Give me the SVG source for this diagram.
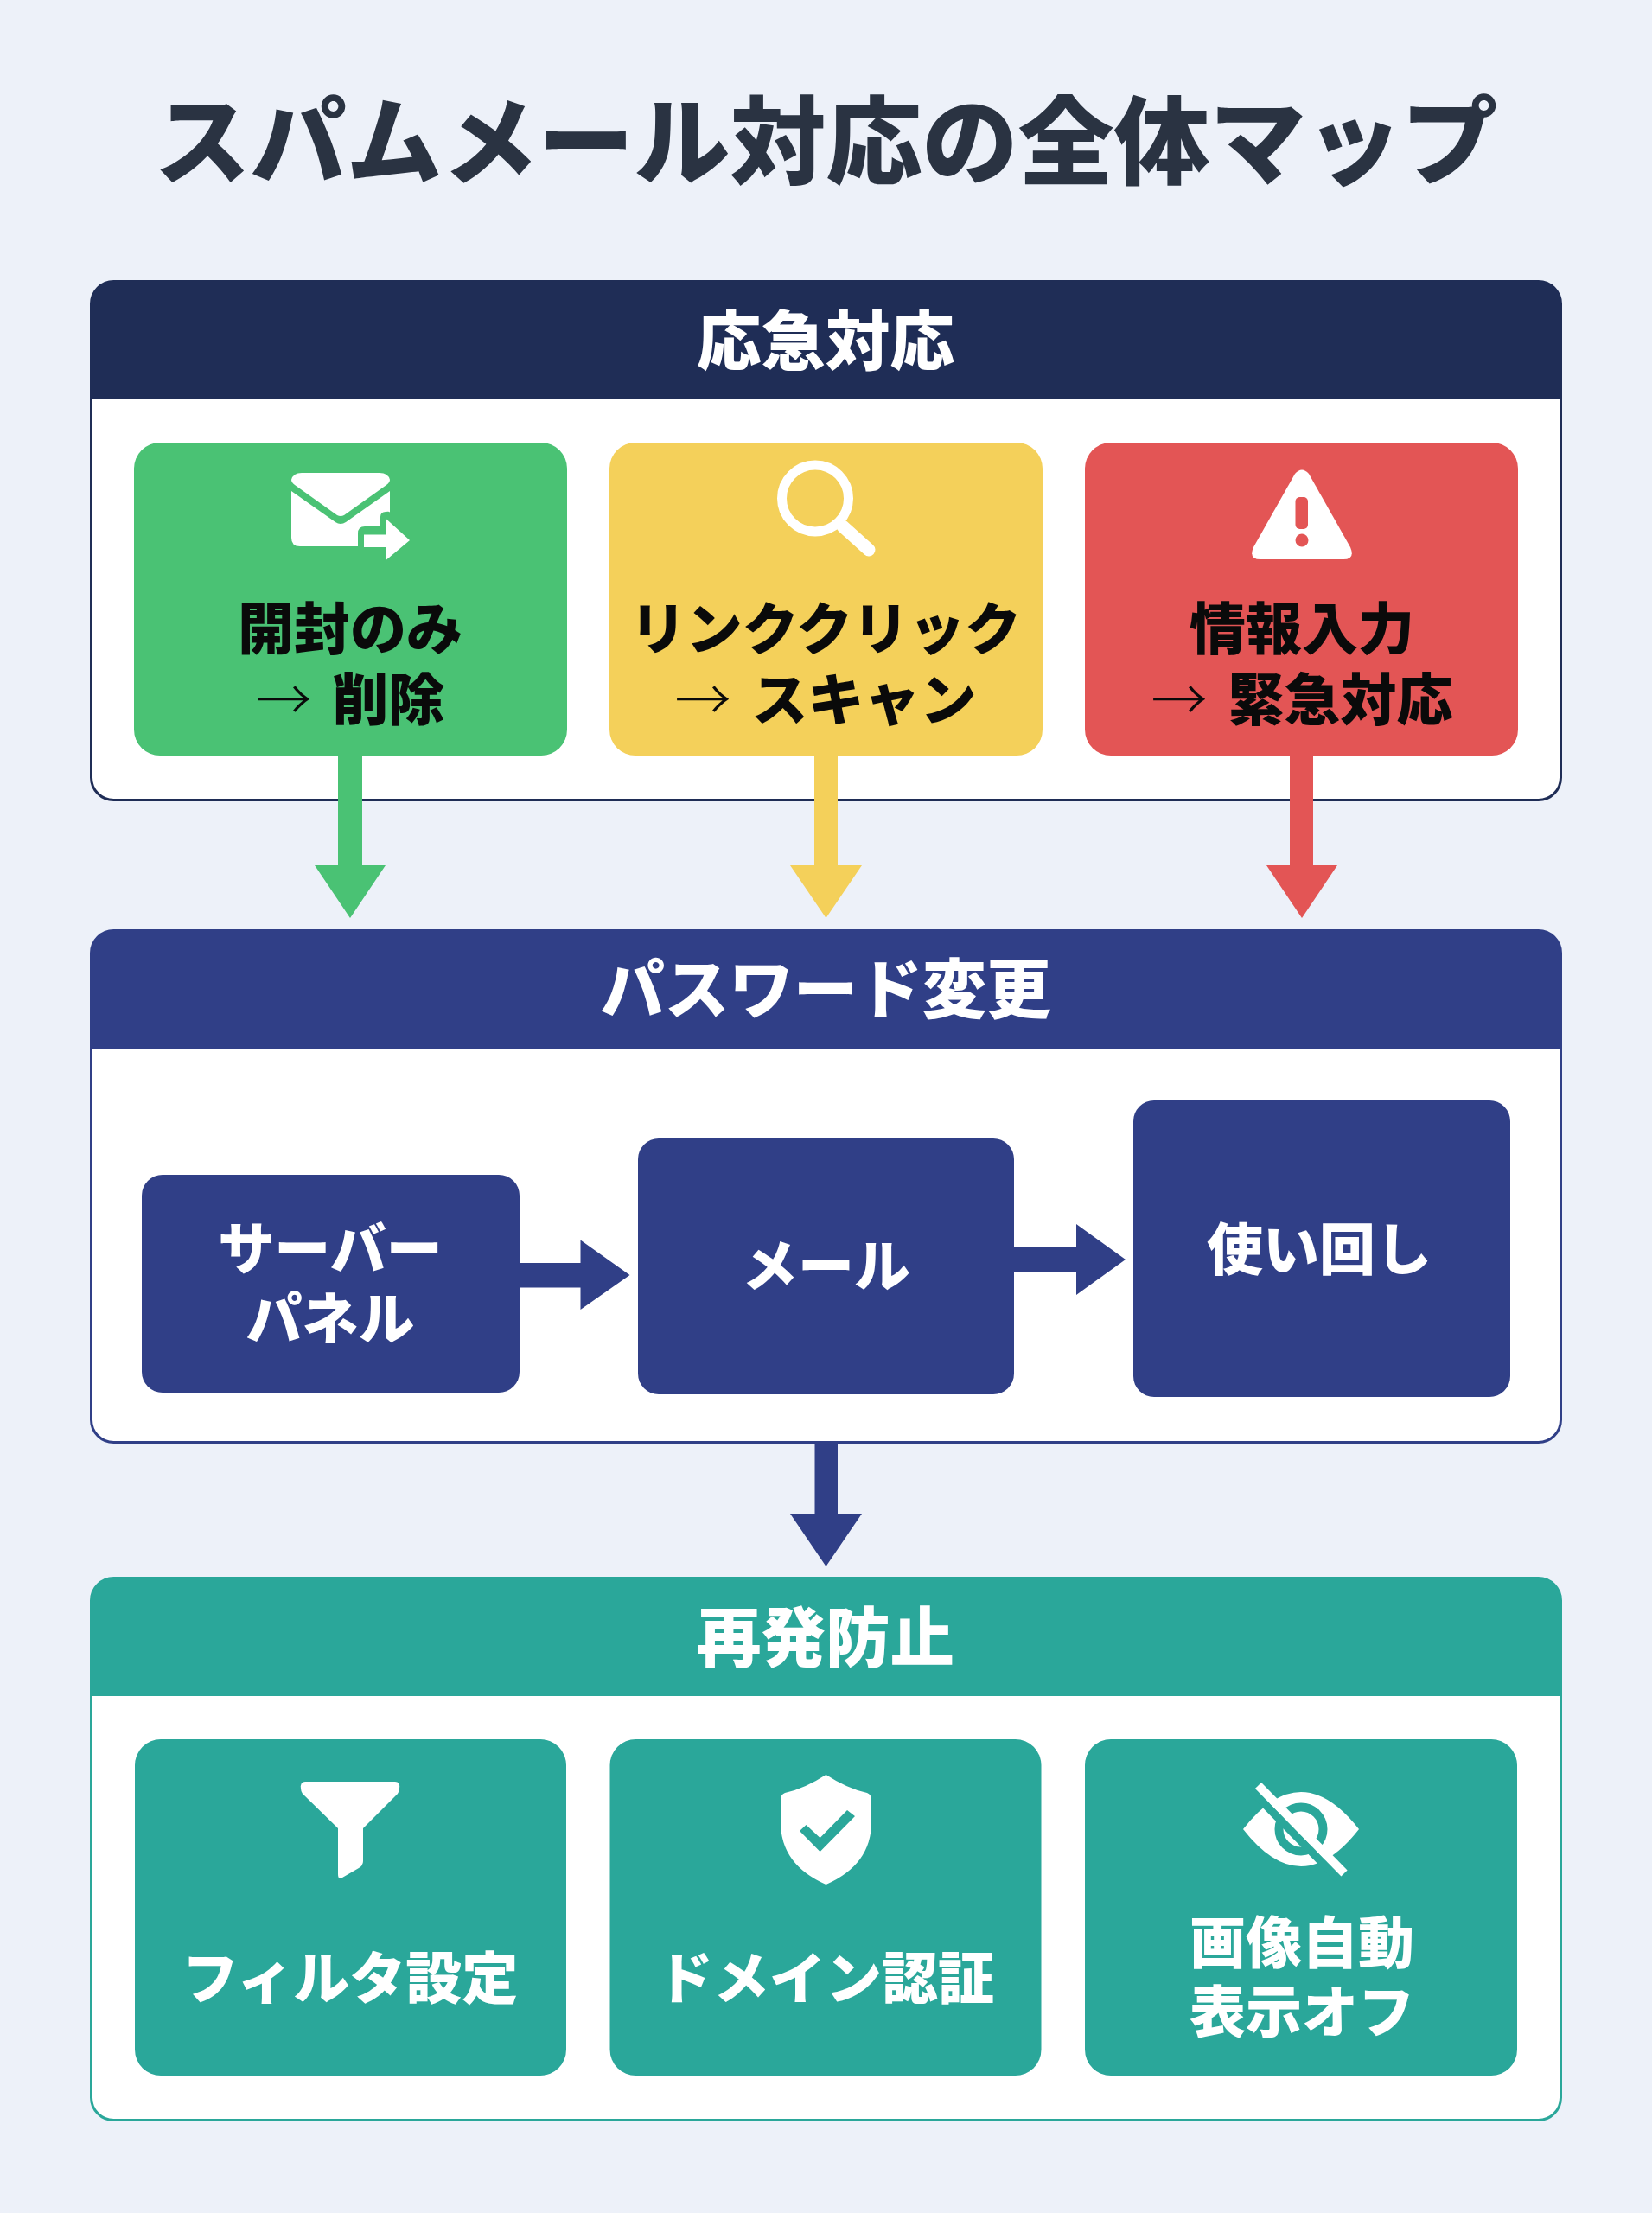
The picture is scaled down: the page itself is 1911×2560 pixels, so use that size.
<svg xmlns="http://www.w3.org/2000/svg" width="1911" height="2560" viewBox="0 0 1911 2560">
<style>
text{font-family:"Noto Sans CJK JP","Noto Sans",sans-serif;font-weight:900;text-anchor:middle}
.title{font-size:111px;fill:#2A3342}
.h{font-size:74.500px;fill:#fff}
.k{font-size:65px;fill:#0a0a0a}
.w{font-size:65px;fill:#fff}
.a2{word-spacing:9px}
.ar{font-weight:300}
.panel{fill:#fff;stroke-width:3}
.ic{fill:#fff}
</style>
<rect width="1911" height="2560" fill="#EDF1F9"/>
<text class="title" x="955.500" y="205">スパムメール対応の全体マップ</text>
<g id="section-emergency">
<rect class="panel" x="105.500" y="325.500" width="1700" height="600" rx="26" stroke="#1F2D56"/>
<path d="M105 462V351a26 26 0 0 1 26-26H1780a26 26 0 0 1 26 26V462Z" fill="#1F2D56"/>
<text class="h" x="955" y="422">応急対応</text>
</g>
<g id="section-password">
<rect class="panel" x="105.500" y="1076.500" width="1700" height="592" rx="26" stroke="#303F87"/>
<path d="M105 1213V1102a26 26 0 0 1 26-26H1780a26 26 0 0 1 26 26V1213Z" fill="#303F87"/>
<text class="h" x="955" y="1172">パスワード変更</text>
</g>
<g id="section-prevention">
<rect class="panel" x="105.500" y="1825.500" width="1700" height="627" rx="26" stroke="#2AA79A"/>
<path d="M105 1962V1851a26 26 0 0 1 26-26H1780a26 26 0 0 1 26 26V1962Z" fill="#2AA79A"/>
<text class="h" x="955" y="1922">再発防止</text>
</g>
<g id="connectors">
<path fill="#4AC274" d="M391 870H419V1001H446L405 1062L364 1001H391Z"/>
<path fill="#F4D05A" d="M942 870H969V1001H997L955.500 1062L914 1001H942Z"/>
<path fill="#E35555" d="M1492 870H1519V1001H1547L1506 1062L1465 1001H1492Z"/>
<path fill="#303F87" d="M601 1461H671.500V1434.500L728.500 1475L671.500 1515V1489.500H601Z"/>
<path fill="#303F87" d="M1173 1443H1245V1416L1302 1457L1245 1498V1471.500H1173Z"/>
<path fill="#303F87" d="M942.500 1669H969V1751H997L955.500 1812L914 1751H942.500Z"/>
</g>
<g id="node-open">
<rect x="155" y="512" width="501" height="362" rx="30" fill="#4AC274"/>
<path class="ic" d="M349 547H439Q449 547 451 555Q451 558 447 561L398 596Q394 598 390 596L341 561Q337 558 337 555Q339 547 349 547Z"/>
<path class="ic" d="M337 568L388 604Q394 608 400 604L451 568V593Q451 591 446 592Q440 592 440 598V609H422Q414 609 414 617V632H347Q337 632 337 622Z"/>
<path class="ic" d="M421 618.500H447V600.500L474 625L447 647.500V633H421Z"/>
<text class="k" x="405" y="751">開封のみ</text>
<text class="k a2" x="405" y="833"><tspan class="ar">→</tspan> 削除</text>
</g>
<g id="node-link">
<rect x="705" y="512" width="501" height="362" rx="30" fill="#F4D05A"/>
<circle cx="943" cy="576.500" r="38.500" fill="none" stroke="#fff" stroke-width="11"/>
<path d="M975 609L1005 636" stroke="#fff" stroke-width="15" stroke-linecap="round"/>
<text class="k" x="955" y="751">リンククリック</text>
<text class="k a2" x="955" y="833"><tspan class="ar">→</tspan> スキャン</text>
</g>
<g id="node-input">
<rect x="1255" y="512" width="501" height="362" rx="30" fill="#E35555"/>
<path class="ic" d="M1498 548Q1506 539 1514 548L1562 633Q1568 647 1554 647H1458Q1444 647 1450 633Z"/>
<rect x="1498.500" y="575" width="14.500" height="37" rx="5" fill="#E35555"/>
<circle cx="1506" cy="625" r="7.500" fill="#E35555"/>
<text class="k" x="1506" y="751">情報入力</text>
<text class="k a2" x="1506" y="833"><tspan class="ar">→</tspan> 緊急対応</text>
</g>
<g id="node-server">
<rect x="164" y="1359" width="437" height="252" rx="24" fill="#303F87"/>
<text class="w" x="382" y="1468">サーバー</text>
<text class="w" x="382" y="1549">パネル</text>
</g>
<g id="node-mail">
<rect x="738" y="1317" width="435" height="296" rx="24" fill="#303F87"/>
<text class="w" x="955.500" y="1488">メール</text>
</g>
<g id="node-reuse">
<rect x="1311" y="1273" width="436" height="343" rx="24" fill="#303F87"/>
<text class="w" x="1526" y="1469">使い回し</text>
</g>
<g id="node-filter">
<rect x="156" y="2012" width="499" height="389" rx="30" fill="#2AA79A"/>
<path class="ic" d="M353 2061H457Q463 2061 462 2069Q462 2072 460 2075L420 2115V2153Q420 2158 415 2161L396 2172Q391 2175 391 2168V2115L350 2075Q348 2072 348 2069Q347 2061 353 2061Z"/>
<text class="w" x="405" y="2312">フィルタ設定</text>
</g>
<g id="node-domain">
<rect x="705.500" y="2012" width="499" height="389" rx="30" fill="#2AA79A"/>
<path class="ic" d="M955.500 2053Q980 2069 1003 2074Q1008 2076 1008 2082V2108Q1008 2157 955.500 2180Q903 2157 903 2108V2082Q903 2076 908 2074Q931 2069 955.500 2053Z"/>
<path fill="#2AA79A" d="M925 2118L932.500 2111L948.600 2126L980 2094L989 2101L948.600 2142Z"/>
<text class="w" x="955" y="2312">ドメイン認証</text>
</g>
<g id="node-image">
<rect x="1255" y="2012" width="500" height="389" rx="30" fill="#2AA79A"/>
<path class="ic" d="M1438 2116Q1505 2030 1572 2116Q1505 2202 1438 2116Z"/>
<circle cx="1505" cy="2116" r="25.500" fill="none" stroke="#2AA79A" stroke-width="10"/>
<path d="M1448.700 2072.150L1548.200 2173.650" stroke="#2AA79A" stroke-width="9.500"/>
<path d="M1455.500 2065.500L1555 2167" stroke="#fff" stroke-width="10"/>
<text class="w" x="1506" y="2271">画像自動</text>
<text class="w" x="1506" y="2351">表示オフ</text>
</g>
</svg>
